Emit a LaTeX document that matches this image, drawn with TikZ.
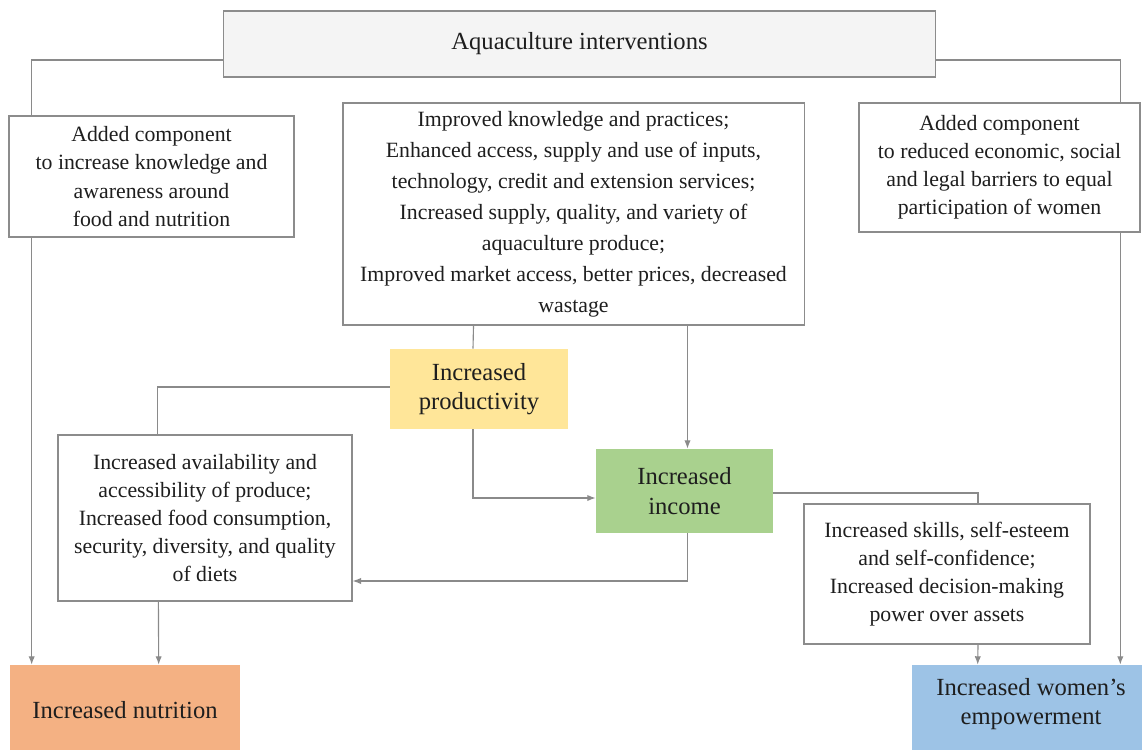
\documentclass[tikz,border=0pt]{standalone}
\usepackage{fontspec}
\setmainfont{Liberation Serif}
\usetikzlibrary{arrows.meta,calc,backgrounds}
\definecolor{boxgray}{HTML}{8C8C8C}
\definecolor{linegray}{HTML}{8A8A8A}
\definecolor{textdark}{HTML}{1E1E1E}
\definecolor{topfill}{HTML}{F4F4F4}
\definecolor{prodfill}{HTML}{FFE699}
\definecolor{incfill}{HTML}{A9D18E}
\definecolor{nutfill}{HTML}{F4B183}
\definecolor{womfill}{HTML}{9DC3E6}
\tikzset{
  box/.style={draw=boxgray, line width=0.8pt, fill=white, align=center, inner sep=0pt,
    text=textdark, font=\fontsize{15.5}{20}\selectfont},
  outcome/.style={align=center, inner sep=0pt, text=textdark, font=\fontsize{17.5}{21}\selectfont},
  link/.style={draw=linegray, line width=0.8pt},
  arr/.style={link, -{Latex[length=6pt,width=4.5pt]}},
}
\begin{document}
\begin{tikzpicture}[x=0.025cm, y=-0.025cm]
\useasboundingbox (0,0) rectangle (1142,749);
\clip (0,0) rectangle (1142,749);
\node[box, fill=topfill, minimum width=17.775cm, minimum height=1.65cm,
  font=\fontsize{17.5}{21}\selectfont] (top) at (579.5,44) {Aquaculture interventions};
\node[box, minimum width=7.125cm, minimum height=3.025cm] (foodcomp) at (151.5,176.5)
  {Added component\\to increase knowledge and\\awareness around\\food and nutrition};
\node[box, minimum width=11.525cm, minimum height=5.55cm,
  font=\fontsize{15.5}{22}\selectfont] (practices) at (573.5,214)
  {Improved knowledge and practices;\\Enhanced access, supply and use of inputs,\\technology, credit and extension services;\\Increased supply, quality, and variety of\\aquaculture produce;\\Improved market access, better prices, decreased\\wastage};
\node[box, minimum width=7.025cm, minimum height=3.225cm] (gendercomp) at (999.5,167.5)
  {Added component\\to reduced economic, social\\and legal barriers to equal\\participation of women};
\node[outcome, fill=prodfill, minimum width=4.45cm, minimum height=2cm] (prod) at (479,389)
  {Increased\\productivity};
\node[outcome, fill=incfill, minimum width=4.425cm, minimum height=2.1cm] (income) at (684.5,491)
  {Increased\\income};
\node[box, minimum width=7.35cm, minimum height=4.15cm] (avail) at (205,518)
  {Increased availability and\\accessibility of produce;\\Increased food consumption,\\security, diversity, and quality\\of diets};
\node[box, minimum width=7.15cm, minimum height=3.5cm] (skills) at (947,574)
  {Increased skills, self-esteem\\and self-confidence;\\Increased decision-making\\power over assets};
\node[outcome, fill=nutfill, minimum width=5.75cm, minimum height=2.25cm] (nutri) at (125,710)
  {Increased nutrition};
\node[outcome, fill=womfill, minimum width=5.95cm, minimum height=2.25cm,
  text depth=12pt] (women) at (1031,710)
  {Increased women’s\\empowerment};
\coordinate (incin) at ($(income.north)+(3,0)$);
\begin{scope}[on background layer]
\draw[arr] ($(top.west)+(0,16)$) -| ($(nutri.north west)+(22,0)$);
\draw[arr] ($(top.east)+(0,16)$) -| ($(women.north east)+(-30,0)$);
\draw[link] ($(practices.south)+(-100,0)$) -- ($(prod.north)+(-6,0)$);
\draw[arr] (incin |- practices.south) -- (incin);
\draw[arr] ($(prod.south)+(-6,0)$) |- ($(income.west)+(0,7)$);
\draw[link] ($(prod.west)+(0,-2)$) -| ($(avail.north west)+(100,0)$);
\draw[arr] ($(income.south)+(3,0)$) |- ($(avail.east)+(0,63)$);
\draw[arr] ($(avail.south west)+(101,0)$) -- ($(nutri.north west)+(149,0)$);
\draw[link] ($(income.east)+(0,2)$) -| ($(skills.north)+(31,0)$);
\draw[arr] ($(skills.south)+(31,0)$) -- ($(women.north west)+(66,0)$);
\end{scope}
\end{tikzpicture}
\end{document}
